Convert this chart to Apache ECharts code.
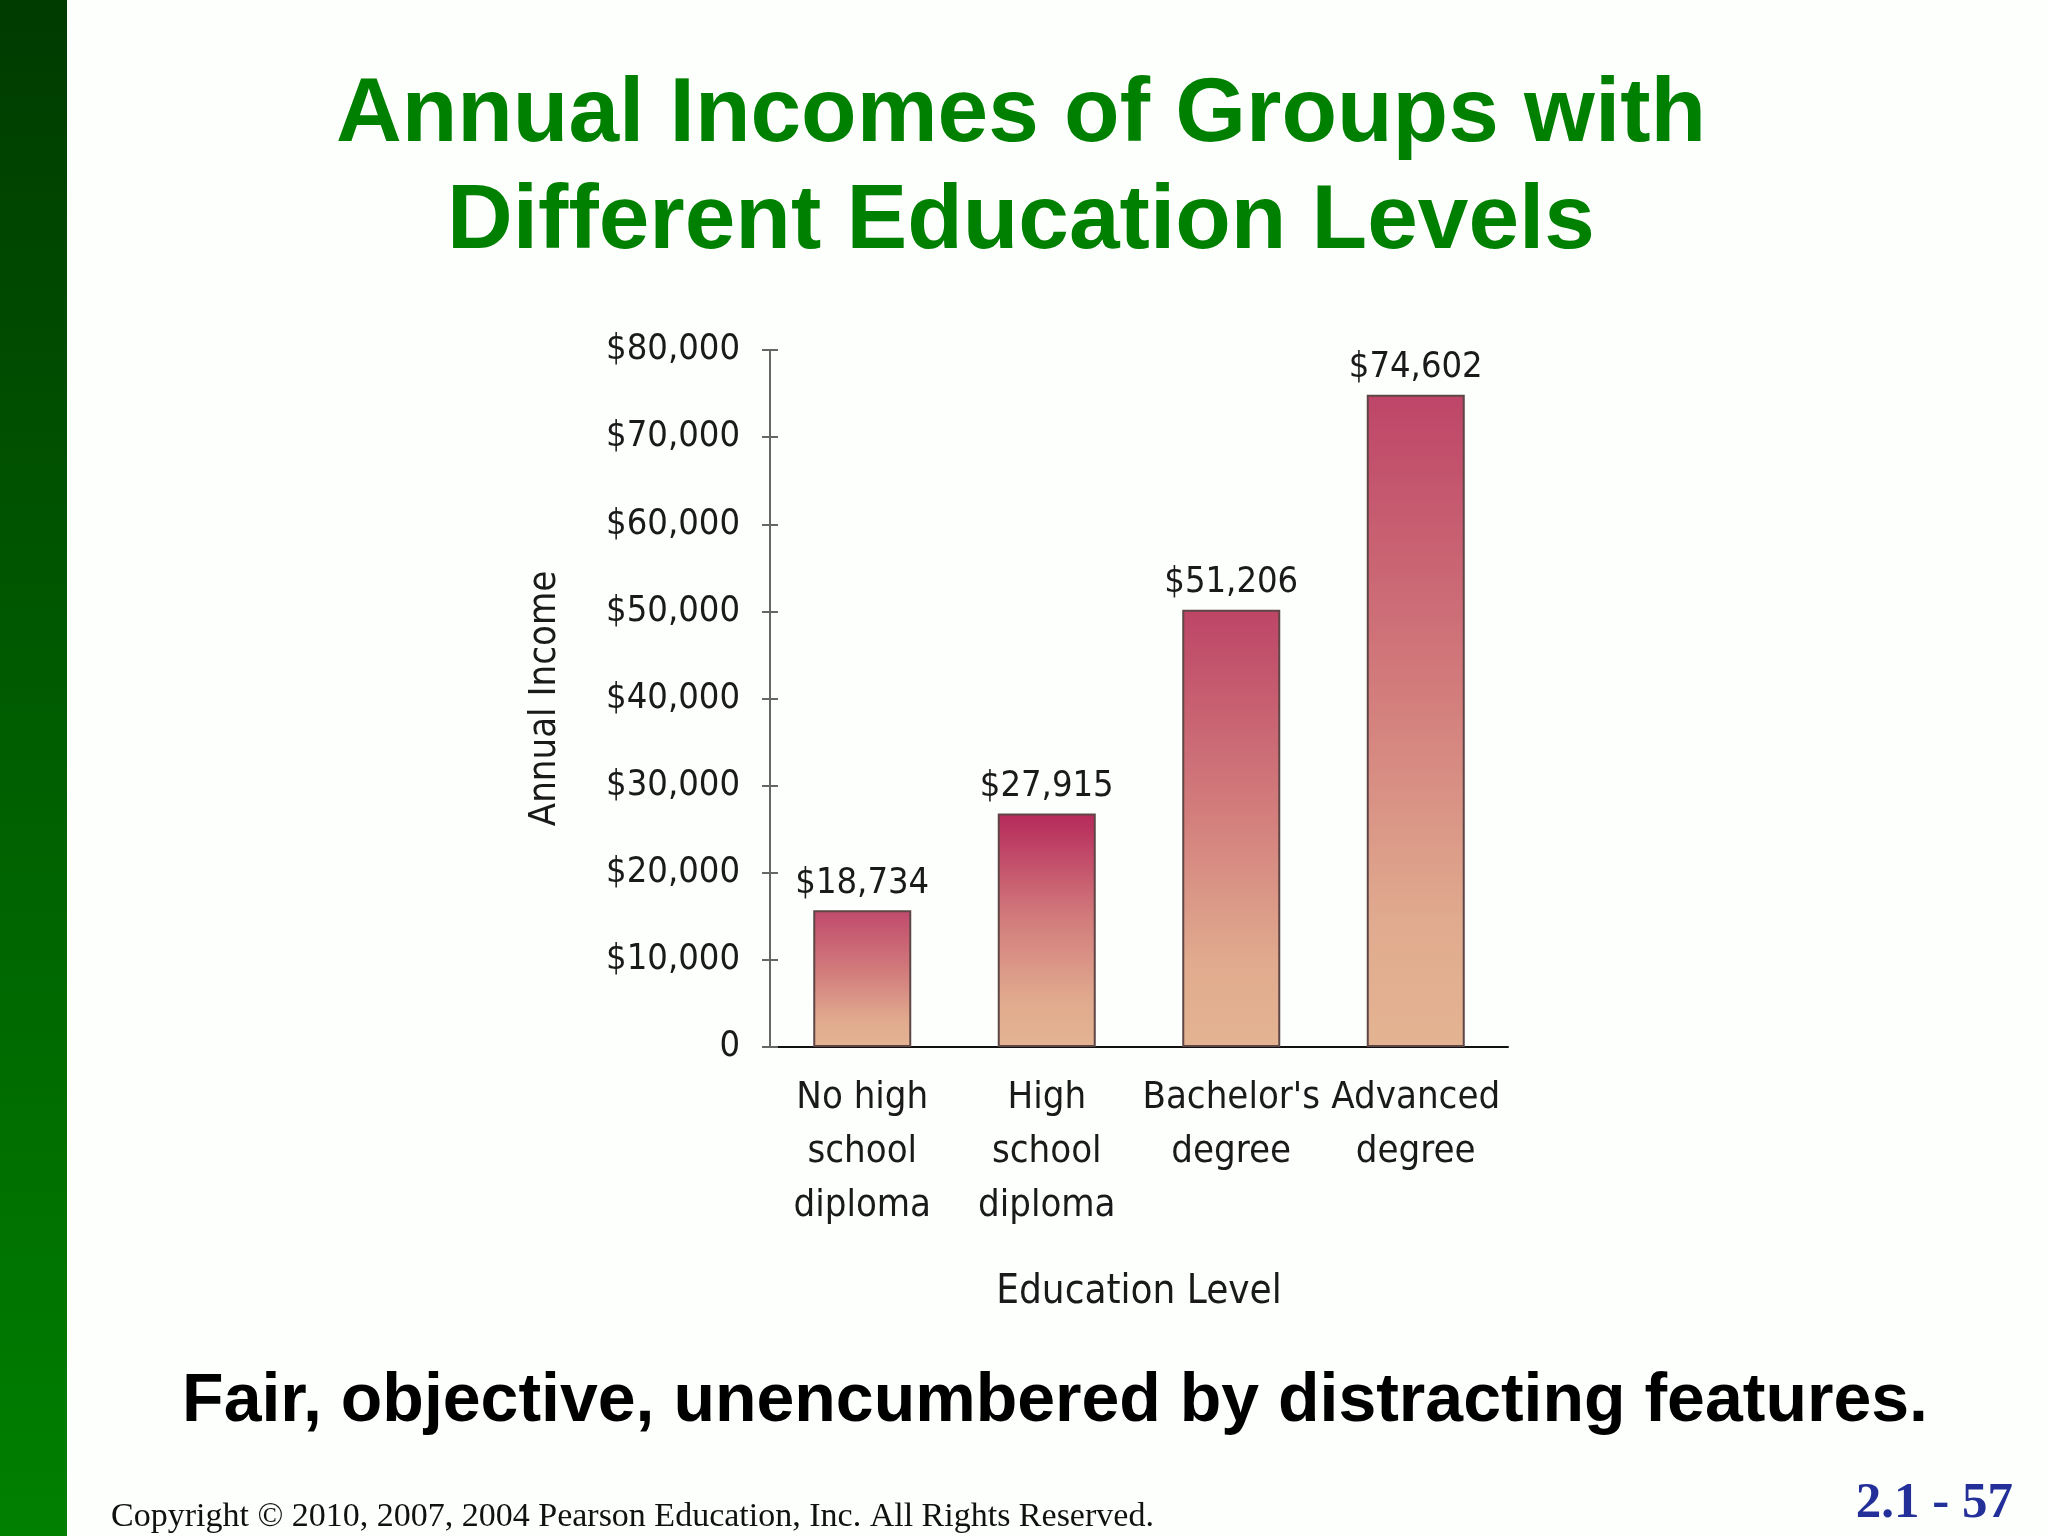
<!DOCTYPE html>
<html>
<head>
<meta charset="utf-8">
<script src="https://cdn.jsdelivr.net/npm/echarts@6/dist/echarts.min.js"></script>
<style>
html,body{margin:0;padding:0;background:#fdfffd;}
#chart{width:2048px;height:1536px;}
</style>
</head>
<body>
<div id="chart"></div>
<script>
// ---- data ----
const categories = ['No high\nschool\ndiploma', 'High\nschool\ndiploma', "Bachelor's\ndegree", 'Advanced\ndegree'];
const barHeights = [15700, 26800, 50200, 74850];        // heights as drawn in the picture
const valueLabels = ['$18,734', '$27,915', '$51,206', '$74,602']; // printed values
const yTickValues = [0, 10000, 20000, 30000, 40000, 50000, 60000, 70000, 80000];
const yTickLabels = ['0', '$10,000', '$20,000', '$30,000', '$40,000', '$50,000', '$60,000', '$70,000', '$80,000'];
const titleText = 'Annual Incomes of Groups with\nDifferent Education Levels';
const subtitleText = 'Fair, objective, unencumbered by distracting features.';
const copyrightText = 'Copyright \u00A9 2010, 2007, 2004 Pearson Education, Inc. All Rights Reserved.';
const pageText = '2.1 - 57';
const yAxisName = 'Annual Income';
const xAxisName = 'Education Level';

// ---- styles ----
const hand = "'DejaVu Sans Condensed', 'Open Sans', sans-serif";
const barTopColors = ['#c04a6c', '#b6295b', '#bd4567', '#be4568'];

const chart = echarts.init(document.getElementById('chart'));

const seriesData = barHeights.map((v, i) => ({
  value: v,
  itemStyle: {
    color: {
      type: 'linear', x: 0, y: 0, x2: 0, y2: 1,
      colorStops: [
        {offset: 0, color: barTopColors[i]},
        {offset: 0.45, color: '#d27c7c'},
        {offset: 0.8, color: '#e0aa8e'},
        {offset: 1, color: '#e4b492'}
      ]
    }
  }
}));

const tickFmt = v => {
  const i = yTickValues.indexOf(v);
  return i >= 0 ? yTickLabels[i] : '';
};

chart.setOption({
  animation: false,
  backgroundColor: '#fdfffd',
  title: [
    {
      text: titleText, left: 1016, top: 57, textAlign: 'center',
      textStyle: {fontFamily: "'Liberation Sans', Arial, sans-serif", fontWeight: 'bold', fontSize: 91, lineHeight: 107, color: '#008000'}
    },
    {
      text: subtitleText, left: 1050, top: 1359, textAlign: 'center',
      textStyle: {fontFamily: "'Liberation Sans', Arial, sans-serif", fontWeight: 'bold', fontSize: 68, lineHeight: 76, color: '#000'}
    },
    {
      text: copyrightText, left: 106, top: 1494,
      textStyle: {fontFamily: "'Liberation Serif', 'Times New Roman', serif", fontWeight: 'normal', fontSize: 34, lineHeight: 36, color: '#111'}
    },
    {
      text: pageText, right: 30, top: 1472,
      textStyle: {fontFamily: "'Liberation Serif', 'Times New Roman', serif", fontWeight: 'bold', fontSize: 51, lineHeight: 54, color: '#24309a'}
    }
  ],
  graphic: [
    {
      type: 'rect', left: 0, top: 0, shape: {width: 67, height: 1536}, z: -1,
      style: {fill: {type: 'linear', x: 0, y: 0, x2: 0, y2: 1, colorStops: [
        {offset: 0, color: '#003b00'}, {offset: 0.5, color: '#005f00'}, {offset: 1, color: '#008000'}
      ]}}
    }
  ],
  grid: {left: 770, right: 540, top: 350, bottom: 489, containLabel: false},
  xAxis: {
    type: 'category',
    data: categories,
    axisLine: {lineStyle: {color: '#111', width: 2}},
    axisTick: {show: false},
    axisLabel: {
      interval: 0, margin: 24, fontFamily: hand, fontSize: 38, lineHeight: 54, color: '#1a1a1a', align: 'center'
    },
    name: xAxisName, nameLocation: 'middle', nameGap: 226,
    nameTextStyle: {fontFamily: hand, fontSize: 40, color: '#1a1a1a'}
  },
  yAxis: [
    {
      type: 'value', min: 0, max: 80000, interval: 10000,
      splitLine: {show: false},
      axisLine: {show: true, lineStyle: {color: '#666', width: 2}},
      axisTick: {show: true, length: 8, lineStyle: {color: '#666', width: 2}},
      axisLabel: {formatter: tickFmt, margin: 30, fontFamily: hand, fontSize: 36, color: '#1a1a1a'},
      name: yAxisName, nameLocation: 'middle', nameGap: 206, nameRotate: 90,
      nameTextStyle: {fontFamily: hand, fontSize: 38, color: '#1a1a1a'}
    },
    {
      type: 'value', min: 0, max: 80000, interval: 10000, position: 'left',
      splitLine: {show: false},
      axisLine: {show: false},
      axisTick: {show: true, inside: true, length: 8, lineStyle: {color: '#666', width: 2}},
      axisLabel: {show: false}
    }
  ],
  series: [{
    type: 'bar',
    yAxisIndex: 0,
    data: seriesData,
    barWidth: 98,
    itemStyle: {borderColor: '#5e4646', borderWidth: 2},
    label: {
      show: true, position: 'top', distance: 9,
      formatter: p => valueLabels[p.dataIndex],
      fontFamily: hand, fontSize: 36, color: '#1a1a1a'
    }
  }]
});
</script>
</body>
</html>
